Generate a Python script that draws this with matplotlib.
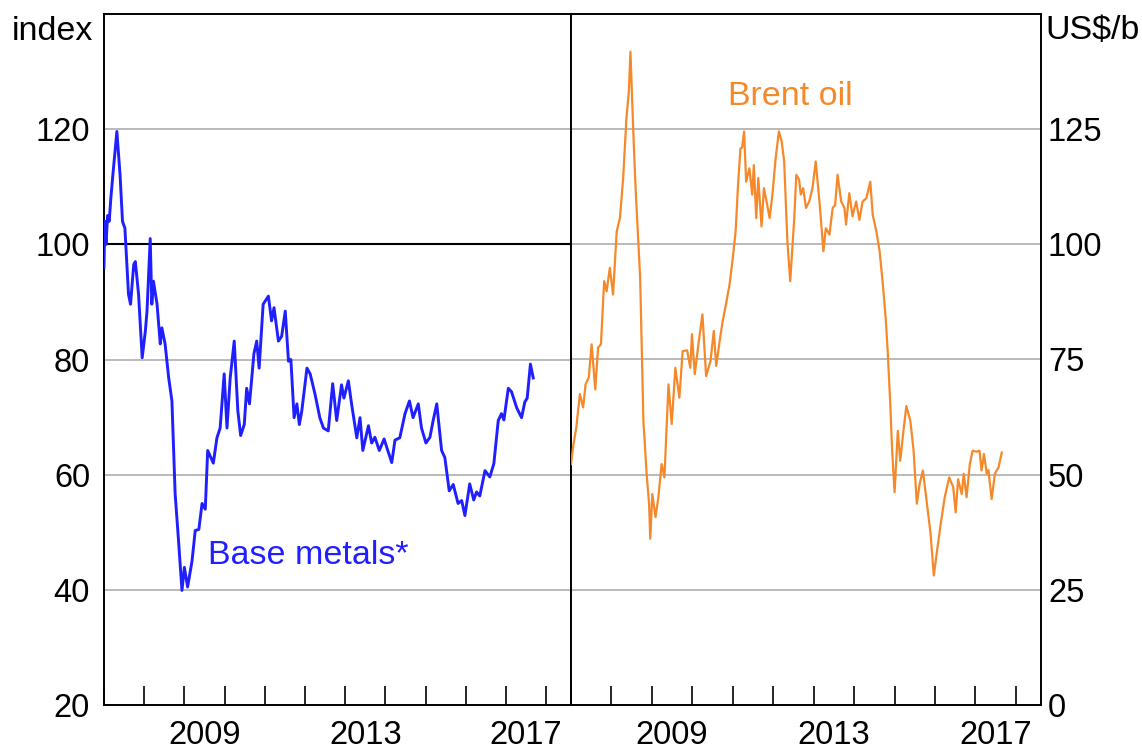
import matplotlib
matplotlib.use("Agg")
import matplotlib.pyplot as plt
from matplotlib.ticker import FixedLocator, NullFormatter, FixedFormatter

plt.rcParams['font.family'] = ['Liberation Sans', 'DejaVu Sans']

# ---------------- data (decimal years, values) ----------------
metals_dates = [
    2007.00, 2007.02, 2007.05, 2007.09, 2007.13, 2007.17, 2007.22, 2007.32, 2007.40, 2007.46,
    2007.52, 2007.61, 2007.66, 2007.74, 2007.78, 2007.86, 2007.95, 2008.03, 2008.07, 2008.15,
    2008.19, 2008.23, 2008.32, 2008.40, 2008.44, 2008.52, 2008.61, 2008.69, 2008.77, 2008.86,
    2008.94, 2009.00, 2009.08, 2009.19, 2009.27, 2009.36, 2009.44, 2009.52, 2009.58, 2009.72,
    2009.81, 2009.89, 2009.99, 2010.06, 2010.14, 2010.24, 2010.33, 2010.40, 2010.49, 2010.55,
    2010.62, 2010.73, 2010.80, 2010.86, 2010.96, 2011.09, 2011.17, 2011.23, 2011.34, 2011.42,
    2011.51, 2011.59, 2011.65, 2011.73, 2011.80, 2011.86, 2011.92, 2012.05, 2012.13, 2012.25,
    2012.37, 2012.46, 2012.58, 2012.69, 2012.79, 2012.91, 2012.97, 2013.08, 2013.16, 2013.29,
    2013.37, 2013.44, 2013.58, 2013.66, 2013.74, 2013.85, 2013.97, 2014.07, 2014.16, 2014.24,
    2014.36, 2014.49, 2014.60, 2014.69, 2014.82, 2014.90, 2015.01, 2015.11, 2015.19, 2015.28,
    2015.40, 2015.48, 2015.59, 2015.69, 2015.81, 2015.90, 2015.98, 2016.10, 2016.20, 2016.27,
    2016.35, 2016.48, 2016.60, 2016.70, 2016.81, 2016.89, 2016.95, 2017.06, 2017.14, 2017.27,
    2017.39, 2017.47, 2017.53, 2017.61, 2017.68,
]
metals_values = [
    96.0, 104.0, 100.0, 105.0, 104.0, 108.0, 112.0, 119.6, 112.0, 104.0,
    102.8, 91.3, 89.6, 96.5, 97.0, 91.3, 80.3, 85.0, 88.4, 101.0,
    89.6, 93.6, 89.6, 82.7, 85.5, 82.7, 76.8, 72.8, 56.7, 48.0,
    39.9, 43.9, 40.5, 45.0, 50.3, 50.5, 55.0, 54.0, 64.2, 62.0,
    66.4, 68.1, 77.5, 68.1, 76.8, 83.2, 71.1, 66.8, 68.7, 75.0,
    72.3, 81.0, 83.2, 78.5, 89.6, 91.0, 86.7, 89.0, 83.2, 84.0,
    88.4, 79.7, 80.0, 69.9, 72.3, 68.7, 71.0, 78.5, 77.5, 74.0,
    69.9, 68.1, 67.6, 75.8, 69.4, 75.6, 73.3, 76.3, 72.3, 66.4,
    69.9, 64.2, 68.5, 65.5, 66.5, 64.2, 66.2, 64.0, 62.1, 66.0,
    66.4, 70.6, 72.8, 69.9, 72.3, 68.1, 65.5, 66.5, 69.4, 72.3,
    64.2, 63.0, 57.2, 58.3, 55.0, 55.5, 52.9, 58.4, 55.6, 57.0,
    56.3, 60.7, 59.6, 61.9, 69.4, 70.6, 69.5, 75.0, 74.4, 71.6,
    69.9, 72.6, 73.3, 79.2, 76.8,
]

oil_dates = [
    2007.00, 2007.05, 2007.13, 2007.22, 2007.30, 2007.36, 2007.44, 2007.51, 2007.60, 2007.67,
    2007.74, 2007.82, 2007.88, 2007.96, 2008.04, 2008.13, 2008.21, 2008.29, 2008.37, 2008.43,
    2008.47, 2008.54, 2008.60, 2008.66, 2008.71, 2008.79, 2008.87, 2008.93, 2008.96, 2009.01,
    2009.09, 2009.16, 2009.24, 2009.31, 2009.41, 2009.49, 2009.58, 2009.68, 2009.76, 2009.87,
    2009.95, 2009.99, 2010.06, 2010.16, 2010.25, 2010.34, 2010.45, 2010.53, 2010.59, 2010.69,
    2010.75, 2010.83, 2010.92, 2011.00, 2011.07, 2011.13, 2011.19, 2011.23, 2011.28, 2011.33,
    2011.41, 2011.48, 2011.52, 2011.58, 2011.63, 2011.71, 2011.77, 2011.85, 2011.91, 2011.98,
    2012.06, 2012.14, 2012.21, 2012.27, 2012.35, 2012.42, 2012.52, 2012.57, 2012.64, 2012.68,
    2012.74, 2012.81, 2012.89, 2012.97, 2013.05, 2013.15, 2013.24, 2013.30, 2013.39, 2013.47,
    2013.53, 2013.59, 2013.68, 2013.76, 2013.80, 2013.88, 2013.96, 2014.05, 2014.13, 2014.21,
    2014.30, 2014.40, 2014.46, 2014.55, 2014.63, 2014.71, 2014.78, 2014.83, 2014.89, 2014.94,
    2015.00, 2015.08, 2015.14, 2015.21, 2015.29, 2015.39, 2015.47, 2015.55, 2015.62, 2015.70,
    2015.79, 2015.89, 2015.97, 2016.05, 2016.14, 2016.24, 2016.35, 2016.45, 2016.51, 2016.57,
    2016.66, 2016.71, 2016.78, 2016.86, 2016.93, 2017.03, 2017.10, 2017.15, 2017.21, 2017.28,
    2017.32, 2017.40, 2017.48, 2017.57, 2017.65,
]
oil_values = [
    52.3, 55.9, 60.2, 67.5, 64.6, 69.6, 71.1, 78.3, 68.5, 77.6,
    78.3, 92.0, 89.8, 94.9, 89.1, 102.8, 105.7, 114.4, 127.3, 133.1,
    141.8, 124.5, 111.5, 101.4, 92.7, 61.7, 50.2, 43.7, 36.1, 45.8,
    40.8, 45.1, 52.3, 49.4, 69.6, 61.0, 73.2, 66.7, 76.8, 77.0,
    73.2, 80.5, 71.8, 79.0, 84.8, 71.4, 74.7, 81.2, 73.6, 79.9,
    83.3, 86.9, 91.3, 97.0, 102.8, 112.9, 120.8, 121.0, 124.5, 113.6,
    116.5, 110.8, 117.2, 105.7, 114.4, 103.9, 112.2, 108.6, 105.7, 110.8,
    118.7, 124.5, 122.3, 118.0, 100.6, 92.0, 105.7, 115.1, 114.0, 110.8,
    112.2, 107.9, 109.3, 112.2, 118.0, 108.6, 98.5, 103.5, 102.1, 107.9,
    108.5, 115.1, 109.3, 107.9, 104.3, 111.1, 106.1, 109.3, 105.3, 109.3,
    110.0, 113.6, 106.4, 102.8, 98.5, 91.3, 84.0, 76.8, 66.0, 55.2,
    46.2, 59.5, 53.0, 58.8, 64.9, 61.7, 55.2, 43.7, 48.0, 50.9,
    44.4, 37.2, 28.1, 33.5, 39.3, 45.1, 49.4, 47.3, 41.8, 49.0,
    45.8, 50.2, 45.1, 52.3, 55.2, 55.0, 55.2, 50.9, 54.5, 50.2,
    51.0, 44.7, 50.2, 51.6, 54.8,
]

left_yticks = [20, 40, 60, 80, 100, 120]
right_yticks = [0, 25, 50, 75, 100, 125]
year_ticks = list(range(2007, 2019))
year_labels = ['2009', '2013', '2017']
year_label_pos = [2009.5, 2013.5, 2017.5]

BLUE = '#1f1fff'
ORANGE = '#f5892a'
GRID = '#b4b4b4'
FS = 23.5
FS_LBL = 24.5

# ---------------- figure ----------------
fig = plt.figure(figsize=(11.42, 7.53), dpi=100)
L, M, R = 104 / 1142, 571 / 1142, 1041 / 1142
B, T = 1 - 705 / 753, 1 - 14 / 753
ax1 = fig.add_axes([L, B, M - L, T - B])
ax2 = fig.add_axes([M, B, R - M, T - B])

XLIM = (2007.0, 2018.62)

for ax in (ax1, ax2):
    ax.set_xlim(*XLIM)
    for sp in ax.spines.values():
        sp.set_color('black')
        sp.set_linewidth(1.4)
    ax.xaxis.set_major_locator(FixedLocator(year_ticks))
    ax.xaxis.set_major_formatter(NullFormatter())
    ax.xaxis.set_minor_locator(FixedLocator(year_label_pos))
    ax.xaxis.set_minor_formatter(FixedFormatter(year_labels))
    ax.tick_params(axis='x', which='major', direction='in', length=14, width=1.2, color='black')
    ax.tick_params(axis='x', which='minor', length=0, pad=11, labelsize=FS)
    ax.yaxis.grid(True, color=GRID, linewidth=1.3)
    ax.set_axisbelow(True)

# left panel: base metals
ax1.set_ylim(20, 140)
ax1.set_yticks(left_yticks)
ax1.tick_params(axis='y', length=0, pad=10, labelsize=FS)
ax1.axhline(100, color='black', linewidth=1.5, zorder=2)
ax1.plot(metals_dates, metals_values, color=BLUE, linewidth=2.1, zorder=3)
ax1.text(2009.6, 46.0, 'Base metals*', color=BLUE, fontsize=FS_LBL, ha='left', va='center')

# right panel: Brent oil
ax2.set_ylim(0, 150)
ax2.set_yticks(right_yticks)
ax2.yaxis.tick_right()
ax2.tick_params(axis='y', length=0, pad=5, labelsize=FS)
ax2.plot(oil_dates, oil_values, color=ORANGE, linewidth=1.6, zorder=3)
ax2.text(2010.87, 132, 'Brent oil', color=ORANGE, fontsize=FS_LBL, ha='left', va='center')

# unit labels
fig.text(12 / 1142, 1 - 32 / 753, 'index', fontsize=FS_LBL, ha='left', va='center')
fig.text(1045 / 1142, 1 - 30 / 753, 'US$/b', fontsize=FS_LBL, ha='left', va='center')

fig.savefig('out.png', dpi=100)
